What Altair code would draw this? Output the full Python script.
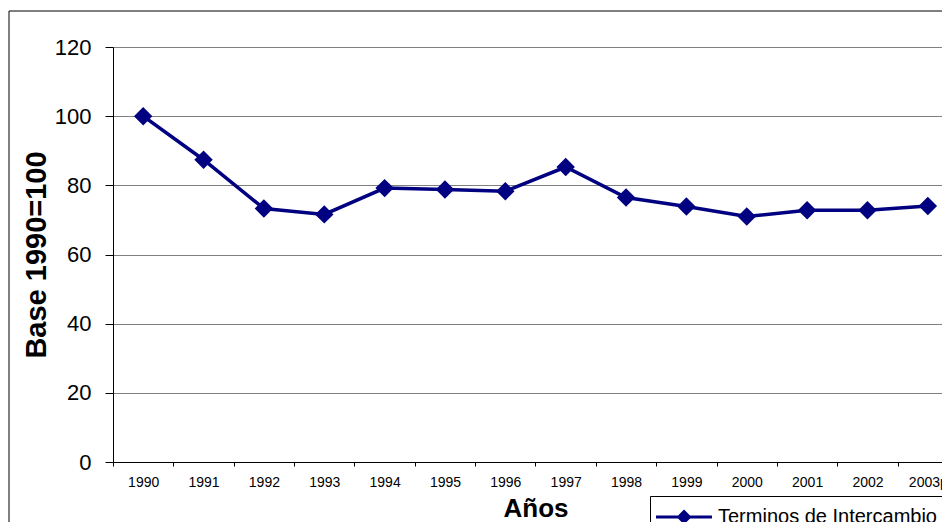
import altair as alt
import pandas as pd

years = ["1990", "1991", "1992", "1993", "1994", "1995", "1996",
         "1997", "1998", "1999", "2000", "2001", "2002", "2003p"]
values = [100.0, 87.4, 73.3, 71.6, 79.2, 78.8, 78.3,
          85.3, 76.5, 73.9, 71.0, 72.8, 72.8, 74.0]
series_name = "Terminos de Intercambio"
y_ticks = [0, 20, 40, 60, 80, 100, 120]

df = pd.DataFrame({"year": years, "value": values, "serie": [series_name] * len(years)})

NAVY = "#000080"
FONT = "Liberation Sans"

# legend symbol: a bar (line) with a diamond in its middle, drawn as filled shapes
LEGEND_SYMBOL = ("M-1,-0.1L2.73,-0.1L2.73,0.1L-1,0.1Z"
                 "M0.87,-0.5L1.37,0L0.87,0.5L0.37,0Z")

x_enc = alt.X(
    "year:N",
    sort=years,
    scale=alt.Scale(type="band", domain=years, range=[0, 845], paddingInner=0, paddingOuter=0),
    axis=alt.Axis(
        title="Años", titleFontSize=26, titleFontWeight="bold", titleFont=FONT, titleColor="black",
        titlePadding=6,
        labelAngle=0, labelFontSize=14, labelFont=FONT, labelColor="black", labelPadding=9,
        tickBand="extent", tickSize=4, tickColor="black", domainColor="black",
        grid=False, labelOverlap=False,
    ),
)
y_enc = alt.Y(
    "value:Q",
    scale=alt.Scale(domain=[0, 120], nice=False),
    axis=alt.Axis(
        title="Base 1990=100", titleFontSize=29, titleFontWeight="bold", titleFont=FONT,
        titleColor="black", titlePadding=3,
        values=y_ticks, labelFontSize=22, labelFont=FONT, labelColor="black", labelPadding=14,
        tickSize=8, tickColor="black", domainColor="black",
        grid=True, gridColor="#808080", gridWidth=1,
    ),
)
color_enc = alt.Color(
    "serie:N",
    scale=alt.Scale(domain=[series_name], range=[NAVY]),
    legend=alt.Legend(
        title=None, orient="none", legendX=537, legendY=449,
        strokeColor="black", fillColor="white", padding=6,
        symbolType=LEGEND_SYMBOL,
        symbolSize=900, symbolStrokeWidth=0,
        symbolFillColor=NAVY, symbolStrokeColor=NAVY,
        labelFontSize=20, labelFont=FONT, labelColor="black", labelOffset=32,
        labelLimit=400,
    ),
)

frame = alt.Chart(pd.DataFrame({"k": [0]})).mark_rect(
    fill=None, stroke="black", strokeWidth=1
).encode(
    x=alt.value(-104), x2=alt.value(1000), y=alt.value(-36), y2=alt.value(700)
)

line = alt.Chart(df).mark_line(strokeWidth=3.5).encode(x=x_enc, y=y_enc, color=color_enc)
points = alt.Chart(df).mark_point(shape="diamond", size=340, filled=True, opacity=1).encode(
    x=x_enc, y=y_enc, color=color_enc
)

chart = alt.layer(frame, line, points).properties(
    width=829, height=415,
    autosize=alt.AutoSizeParams(type="none"),
    padding={"left": 105, "top": 39, "right": 0, "bottom": 60},
).configure_view(stroke=None).configure(background="white")

chart.save("out.html", embed_options={"renderer": "svg", "actions": False})
